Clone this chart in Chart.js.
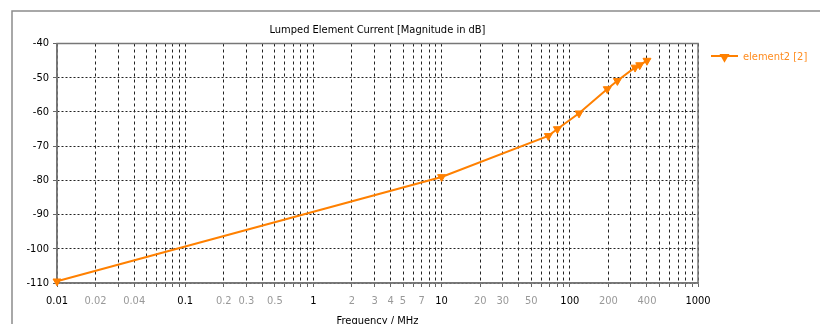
<!DOCTYPE html>
<html><head><meta charset="utf-8">
<script src="https://cdn.jsdelivr.net/npm/chart.js@4.4.1/dist/chart.umd.min.js"></script>
<style>html,body{margin:0;padding:0;background:#fff;overflow:hidden}</style>
</head><body><canvas id="c" width="820" height="324"></canvas>
<script>
const chartTitle = 'Lumped Element Current [Magnitude in dB]';
const xAxisTitle = 'Frequency / MHz';
const seriesLabel = 'element2 [2]';
const frequencies = [0.01, 10, 68, 80, 118, 196, 235, 323, 351, 400];
const magnitudes  = [-109.5, -79, -67, -65, -60.4, -53.3, -50.9, -47, -46.3, -45];
const xTickLabels = [0.01,0.02,0.04,0.1,0.2,0.3,0.5,1,2,3,4,5,7,10,20,30,50,100,200,400,1000];
const xMajorTicks = [0.01,0.1,1,10,100,1000];
const yTicks = [-110,-100,-90,-80,-70,-60,-50,-40];

const FONT = '"DejaVu Sans Condensed", "DejaVu Sans", sans-serif';
const FS = 11;
const ORANGE = '#ff8000';

const near = (a, b) => Math.abs(Math.log10(a) - Math.log10(b)) < 1e-6;
const gridValues = [];
for (let i = 0; i < xMajorTicks.length - 1; i++) {
  for (let m = 1; m <= 9; m++) gridValues.push(xMajorTicks[i] * m);
}
gridValues.push(xMajorTicks[xMajorTicks.length - 1]);

const decor = {
  id: 'decor',
  beforeDraw(chart) {
    const ctx = chart.ctx;
    ctx.save();
    ctx.fillStyle = '#fff';
    ctx.fillRect(0, 0, chart.width, chart.height);
    ctx.strokeStyle = '#8c8c8c';
    ctx.lineWidth = 1.5;
    ctx.beginPath();
    ctx.moveTo(12, chart.height);
    ctx.lineTo(12, 11);
    ctx.lineTo(chart.width, 11);
    ctx.stroke();
    ctx.restore();
  },
  beforeDatasetsDraw(chart) {
    const {ctx, chartArea: a} = chart;
    ctx.save();
    ctx.strokeStyle = '#777';
    ctx.lineWidth = 1.5;
    ctx.strokeRect(a.left, a.top, a.right - a.left, a.bottom - a.top);
    ctx.restore();
  },
  afterDraw(chart) {
    const ctx = chart.ctx;
    const ds = chart.data.datasets[0];
    const a = chart.chartArea;
    const y = a.top + 12.5;
    const x0 = a.right + 13;
    ctx.save();
    ctx.strokeStyle = ds.borderColor;
    ctx.lineWidth = 2;
    ctx.beginPath();
    ctx.moveTo(x0, y);
    ctx.lineTo(x0 + 27, y);
    ctx.stroke();
    Chart.helpers.drawPoint(ctx, {pointStyle: 'triangle', rotation: 180, radius: 3.8, borderWidth: 1}, x0 + 13.5, y + 1);
    ctx.fillStyle = ds.borderColor;
    ctx.fill();
    ctx.font = FS + 'px ' + FONT;
    ctx.fillStyle = '#ff8c1f';
    ctx.textBaseline = 'middle';
    ctx.textAlign = 'left';
    ctx.fillText(ds.label, x0 + 32, y + 1);
    ctx.restore();
  }
};

new Chart(document.getElementById('c'), {
  type: 'line',
  data: {
    datasets: [{
      label: seriesLabel,
      data: frequencies.map((f, i) => ({x: f, y: magnitudes[i]})),
      borderColor: ORANGE,
      backgroundColor: ORANGE,
      borderWidth: 2,
      pointStyle: 'triangle',
      rotation: 180,
      pointRadius: 4.6,
      pointBorderWidth: 1,
      tension: 0,
      clip: false
    }]
  },
  options: {
    responsive: false,
    animation: false,
    devicePixelRatio: 1,
    layout: {padding: {left: 0, right: 122, top: 0, bottom: 0}},
    plugins: {
      legend: {display: false},
      tooltip: {enabled: false},
      title: {
        display: true, text: chartTitle, fullSize: false,
        color: '#000', font: {family: FONT, size: FS, weight: 'normal', lineHeight: 1.2},
        padding: {top: 23.5, bottom: 6.8}
      }
    },
    scales: {
      x: {
        type: 'logarithmic', min: 0.01, max: 1000, position: 'bottom',
        afterBuildTicks(s) { s.ticks = gridValues.map(v => ({value: v})); },
        afterFit(s) { s.height = 41; },
        ticks: {
          autoSkip: false, maxRotation: 0, minRotation: 0, padding: 7.5,
          font: {family: FONT, size: FS},
          color: (c) => (c.tick && xMajorTicks.some(m => near(m, c.tick.value))) ? '#000' : '#999',
          callback: (v) => {
            const l = xTickLabels.find(t => near(t, v));
            return l === undefined ? '' : String(l);
          }
        },
        grid: {color: '#222', lineWidth: 1, tickLength: 4, tickColor: '#666', drawTicks: true},
        border: {display: true, color: '#777', width: 1.5, dash: [3, 3]},
        title: {
          display: true, text: xAxisTitle, color: '#000',
          font: {family: FONT, size: FS, lineHeight: 1.2},
          padding: {top: 0, bottom: -3.5}
        }
      },
      y: {
        type: 'linear', min: -110, max: -40,
        afterBuildTicks(s) { s.ticks = yTicks.map(v => ({value: v})); },
        afterFit(s) { s.width = 57; },
        ticks: {padding: 4, color: '#000', font: {family: FONT, size: FS}},
        grid: {color: '#222', lineWidth: 1, tickLength: 4, tickColor: '#666'},
        border: {display: true, color: '#777', width: 1.5, dash: [2, 2]}
      }
    }
  },
  plugins: [decor]
});
</script>
</body></html>
